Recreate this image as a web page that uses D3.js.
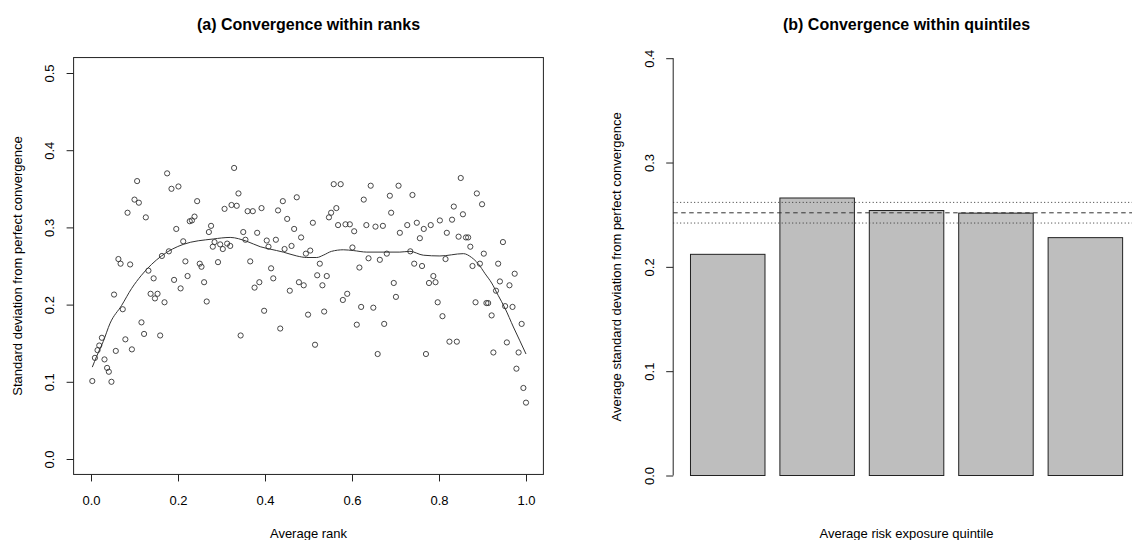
<!DOCTYPE html>
<html>
<head>
<meta charset="utf-8">
<script src="https://cdn.jsdelivr.net/npm/d3@7"></script>
<style>
  body { margin: 0; background: #fff; }
  svg text { font-family: "Liberation Sans", Arial, Helvetica, sans-serif; fill: #000; }
</style>
</head>
<body>
<svg id="chart" width="1132" height="540"></svg>
<script>
// (a) scatter: average rank vs sd from perfect convergence
const rankX = [0.003,0.009,0.015,0.019,0.025,0.031,0.037,0.041,0.047,0.053,
  0.057,0.063,0.068,0.073,0.079,0.084,0.090,0.094,0.100,0.106,
  0.110,0.116,0.122,0.126,0.132,0.137,0.144,0.147,0.153,0.159,
  0.163,0.169,0.175,0.179,0.185,0.191,0.196,0.201,0.206,0.212,
  0.217,0.222,0.227,0.232,0.238,0.244,0.250,0.254,0.260,0.266,
  0.271,0.276,0.280,0.284,0.292,0.297,0.303,0.307,0.313,0.320,
  0.323,0.329,0.335,0.339,0.344,0.350,0.355,0.360,0.366,0.372,
  0.376,0.382,0.387,
  0.392,0.398,0.404,0.408,0.414,0.419,0.425,0.430,0.435,0.441,
  0.445,0.451,0.457,0.461,0.467,0.473,0.478,0.483,0.489,0.494,
  0.499,0.504,0.510,0.515,0.520,0.526,0.532,0.536,0.542,0.547,
  0.552,0.558,0.564,0.568,0.574,0.579,0.585,0.589,0.595,0.601,
  0.605,0.611,0.617,0.621,0.627,0.633,0.638,0.643,0.649,0.654,
  0.659,0.664,0.671,0.674,0.680,0.687,0.690,0.696,0.701,0.707,0.710,
  0.727,0.734,0.739,0.743,0.749,0.756,0.761,0.765,0.770,0.777,
  0.781,0.787,0.792,0.797,0.802,0.808,0.815,0.818,0.824,0.830,
  0.834,0.841,0.845,0.850,0.855,0.862,0.867,0.872,0.877,0.884,
  0.887,0.894,0.899,0.903,0.909,0.913,0.921,0.925,0.931,0.936,
  0.940,0.947,0.952,0.956,0.962,0.969,0.974,0.978,0.983,0.990,
  0.994,1.000];
const sdY = [0.101,0.131,0.141,0.147,0.157,0.129,0.118,0.113,0.100,0.213,
  0.140,0.259,0.253,0.194,0.155,0.319,0.252,0.142,0.336,0.360,
  0.332,0.177,0.162,0.313,0.244,0.214,0.234,0.208,0.214,0.160,
  0.263,0.203,0.370,0.269,0.350,0.232,0.298,0.353,0.221,0.282,
  0.256,0.237,0.308,0.309,0.314,0.334,0.253,0.249,0.229,0.204,
  0.294,0.302,0.275,0.281,0.255,0.278,0.272,0.324,0.279,0.276,
  0.329,0.377,0.328,0.344,0.160,0.294,0.284,0.321,0.256,0.321,
  0.222,0.293,0.229,
  0.325,0.192,0.283,0.275,0.247,0.234,0.284,0.322,0.169,0.334,
  0.272,0.311,0.218,0.276,0.298,0.339,0.229,0.287,0.225,0.266,
  0.187,0.270,0.306,0.148,0.238,0.253,0.225,0.191,0.237,0.313,
  0.319,0.356,0.325,0.303,0.356,0.206,0.304,0.214,0.304,0.274,
  0.295,0.174,0.248,0.197,0.336,0.303,0.260,0.354,0.196,0.301,
  0.136,0.258,0.302,0.175,0.266,0.341,0.319,0.228,0.210,0.354,0.293,
  0.303,0.269,0.342,0.253,0.306,0.286,0.250,0.298,0.136,0.228,
  0.303,0.237,0.229,0.203,0.309,0.185,0.259,0.293,0.152,0.310,
  0.327,0.152,0.288,0.364,0.317,0.287,0.287,0.275,0.250,0.203,
  0.344,0.253,0.330,0.266,0.202,0.202,0.186,0.138,0.218,0.253,
  0.230,0.281,0.198,0.151,0.225,0.197,0.240,0.117,0.138,0.175,
  0.092,0.073];

// smoothed fit through the scatter
const smoothX = [0.003,0.013,0.028,0.044,0.0705,0.0935,0.116,0.162,0.212,0.281,
  0.320,0.358,0.389,0.411,0.442,0.473,0.496,0.519,0.534,0.553,
  0.580,0.603,0.634,0.710,0.733,0.764,0.802,0.856,0.875,0.890,
  0.906,0.921,0.936,0.952,0.971,0.986,1.000];
const smoothY = [0.119,0.133,0.152,0.176,0.199,0.221,0.238,0.263,0.278,0.285,
  0.287,0.282,0.275,0.272,0.268,0.263,0.261,0.261,0.264,0.269,
  0.271,0.270,0.268,0.268,0.269,0.264,0.263,0.266,0.261,0.253,
  0.240,0.228,0.212,0.195,0.171,0.153,0.136];

const xTicksL = [0, 0.2, 0.4, 0.6, 0.8, 1.0];
const yTicksL = [0, 0.1, 0.2, 0.3, 0.4, 0.5];

// (b) bars: quintile averages + overall mean and band
const quintiles = ["Q1", "Q2", "Q3", "Q4", "Q5"];
const barMeans = [0.212, 0.266, 0.254, 0.2515, 0.228];
const overallMean = 0.2518;
const bandLow = 0.2420;
const bandHigh = 0.2618;
const yTicksR = [0, 0.1, 0.2, 0.3, 0.4];

const svg = d3.select("#chart");
const fmt = d3.format(".1f");

// ---------- panel (a) ----------
var xL = d3.scaleLinear().domain([0, 1]).range([91, 526]);
var yL = d3.scaleLinear().domain([0, 0.5]).range([459, 73]);
var left = svg.append("g");

left.append("rect")
    .attr("x", xL(-0.04))
    .attr("y", yL(0.52))
    .attr("width", xL(1.04) - xL(-0.04))
    .attr("height", yL(-0.02) - yL(0.52))
    .attr("fill", "none")
    .attr("stroke", "#222")
    .attr("stroke-width", 1);

var xAxisL = left.append("g")
    .attr("transform", "translate(0," + yL(-0.02) + ")")
    .call(d3.axisBottom(xL).tickValues(xTicksL).tickFormat(fmt).tickSizeOuter(0).tickSize(7).tickPadding(14));
xAxisL.select(".domain").remove();

var yAxisL = left.append("g")
    .attr("transform", "translate(" + xL(-0.04) + ",0)")
    .call(d3.axisLeft(yL).tickValues(yTicksL).tickFormat(fmt).tickSizeOuter(0).tickSize(7));
yAxisL.select(".domain").remove();

[xAxisL, yAxisL].forEach(function (g) {
  g.selectAll("line").attr("stroke", "#222");
  g.selectAll("text").attr("font-size", 13).attr("font-family", null);
});
yAxisL.selectAll("text")
    .attr("transform", "rotate(-90)")
    .attr("x", 0).attr("y", -24).attr("dy", "0.35em")
    .attr("text-anchor", "middle");

left.selectAll("circle")
    .data(rankX)
    .enter()
    .append("circle")
    .attr("cx", function (d) { return xL(d); })
    .attr("cy", function (d, i) { return yL(sdY[i]); })
    .attr("r", 2.6)
    .attr("fill", "none")
    .attr("stroke", "#333")
    .attr("stroke-width", 0.9);

var smoothLine = d3.line()
    .x(function (d) { return xL(d); })
    .y(function (d, i) { return yL(smoothY[i]); })
    .curve(d3.curveMonotoneX);
left.append("path")
    .attr("d", smoothLine(smoothX))
    .attr("fill", "none")
    .attr("stroke", "#333")
    .attr("stroke-width", 1);

left.append("text")
    .attr("x", (xL(-0.04) + xL(1.04)) / 2).attr("y", 30)
    .attr("text-anchor", "middle")
    .attr("font-size", 16).attr("font-weight", "bold")
    .text("(a) Convergence within ranks");
left.append("text")
    .attr("x", (xL(-0.04) + xL(1.04)) / 2).attr("y", 538)
    .attr("text-anchor", "middle").attr("font-size", 13)
    .text("Average rank");
left.append("text")
    .attr("transform", "translate(22," + (yL(-0.02) + yL(0.52)) / 2 + ") rotate(-90)")
    .attr("text-anchor", "middle").attr("font-size", 13)
    .text("Standard deviation from perfect convergence");

// ---------- panel (b) ----------
var xR = d3.scaleLinear().domain([-0.032, 6.232]).range([673.2, 1139.9]);
var yR = d3.scaleLinear().domain([0, 0.4]).range([475.5, 58.2]);
var band = d3.scaleBand()
    .domain(quintiles)
    .range([xR(0.1), xR(6.1)])
    .paddingInner(1 / 6)
    .paddingOuter(1 / 12);
var right = svg.append("g");

var yAxisR = right.append("g")
    .attr("transform", "translate(" + xR(-0.032) + ",0)")
    .call(d3.axisLeft(yR).tickValues(yTicksR).tickFormat(fmt).tickSizeOuter(0).tickSize(7));
yAxisR.select(".domain").attr("d", "M0," + yR(0) + "V" + yR(0.4)).attr("stroke", "#222");
yAxisR.selectAll("line").attr("stroke", "#222");
yAxisR.selectAll("text")
    .attr("font-size", 13).attr("font-family", null)
    .attr("transform", "rotate(-90)")
    .attr("x", 0).attr("y", -24).attr("dy", "0.35em")
    .attr("text-anchor", "middle");

right.selectAll("rect.bar")
    .data(quintiles)
    .enter()
    .append("rect")
    .attr("class", "bar")
    .attr("x", function (d) { return band(d); })
    .attr("y", function (d, i) { return yR(barMeans[i]); })
    .attr("width", band.bandwidth())
    .attr("height", function (d, i) { return yR(0) - yR(barMeans[i]); })
    .attr("fill", "#bebebe")
    .attr("stroke", "#222")
    .attr("stroke-width", 1);

var refLines = [
  { v: bandHigh, dash: "1,2.5" },
  { v: overallMean, dash: "4.5,3.5" },
  { v: bandLow, dash: "1,2.5" }
];
right.selectAll("line.ref")
    .data(refLines)
    .enter()
    .append("line")
    .attr("class", "ref")
    .attr("x1", xR(-0.032)).attr("x2", 1132)
    .attr("y1", function (d) { return yR(d.v); })
    .attr("y2", function (d) { return yR(d.v); })
    .attr("stroke", "#333")
    .attr("stroke-width", 1)
    .attr("stroke-dasharray", function (d) { return d.dash; });

right.append("text")
    .attr("x", (xR(-0.032) + xR(6.232)) / 2).attr("y", 30)
    .attr("text-anchor", "middle")
    .attr("font-size", 16).attr("font-weight", "bold")
    .text("(b) Convergence within quintiles");
right.append("text")
    .attr("x", (xR(-0.032) + xR(6.232)) / 2).attr("y", 538)
    .attr("text-anchor", "middle").attr("font-size", 13)
    .text("Average risk exposure quintile");
right.append("text")
    .attr("transform", "translate(621," + (yR(-0.016) + yR(0.416)) / 2 + ") rotate(-90)")
    .attr("text-anchor", "middle").attr("font-size", 13)
    .text("Average standard deviation from perfect convergence");
</script>
</body>
</html>
